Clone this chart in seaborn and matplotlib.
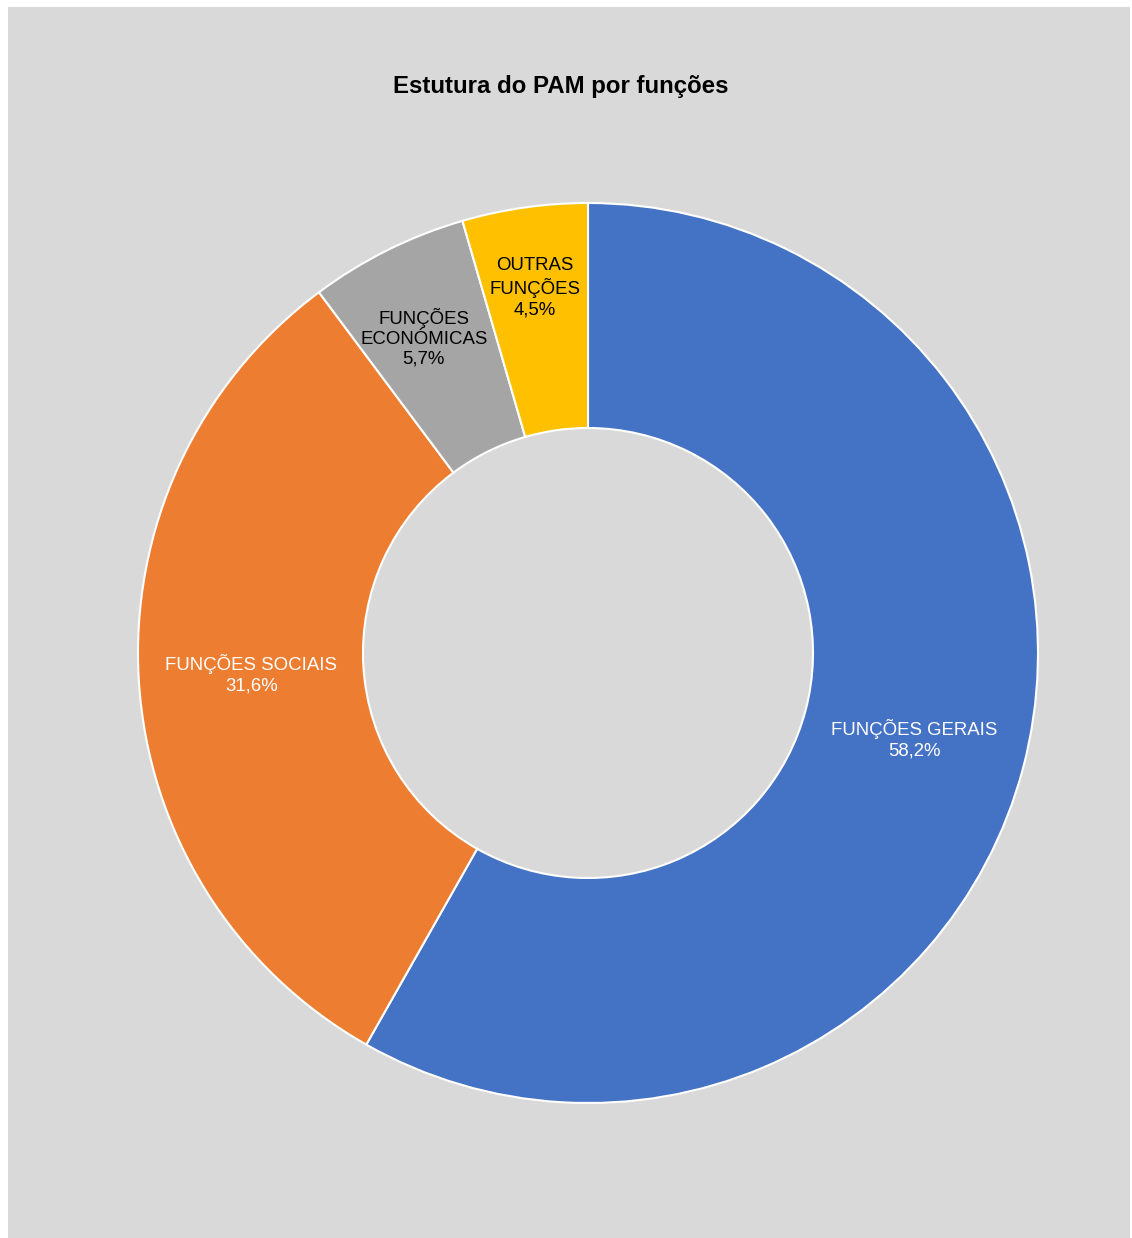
import matplotlib
matplotlib.use("Agg")
import numpy as np
import matplotlib.pyplot as plt
import seaborn as sns
from matplotlib.patches import Rectangle

categories = ["FUNÇÕES GERAIS", "FUNÇÕES SOCIAIS", "FUNÇÕES\nECONÓMICAS", "OUTRAS\nFUNÇÕES"]
shares = [58.2, 31.6, 5.7, 4.5]
share_labels = ["58,2%", "31,6%", "5,7%", "4,5%"]
colors = sns.color_palette(["#4472C4", "#ED7D31", "#A5A5A5", "#FFC000"])
text_colors = ["white", "white", "black", "black"]
# label placement: (radius, angle in degrees or None = wedge middle)
label_place = [(0.75, None), (0.75, None), (0.79, 117.5), (0.82, 98.3)]

sns.set_style("white")
plt.rcParams["font.family"] = ["Liberation Sans", "DejaVu Sans"]

W, H = 1132, 1238
fig = plt.figure(figsize=(W / 100, H / 100), dpi=100)
fig.patch.set_facecolor("white")
fig.patches.append(Rectangle((8 / W, 0), (W - 10) / W, (H - 7) / H,
                             transform=fig.transFigure, facecolor="#D9D9D9",
                             edgecolor="none", zorder=-10))

cx, cy, r = 588, 653, 450
ax = fig.add_axes([(cx - r) / W, (H - cy - r) / H, 2 * r / W, 2 * r / H])
ax.set_facecolor("none")
ax.set_zorder(5)

wedges, _ = ax.pie(shares, colors=colors, startangle=90, counterclock=False,
                   radius=1, wedgeprops=dict(width=0.5, edgecolor="white", linewidth=1.5))

for w, cat, lab, tc, (lr, la) in zip(wedges, categories, share_labels, text_colors, label_place):
    if la is None:
        la = (w.theta1 + w.theta2) / 2
    ang = np.deg2rad(la)
    x, y = lr * np.cos(ang), lr * np.sin(ang)
    ax.text(x, y, f"{cat}\n{lab}", ha="center", va="center", fontsize=13.4,
            color=tc, linespacing=1.24)

ax.set_xlim(-1, 1)
ax.set_ylim(-1, 1)
ax.set_aspect("equal")
ax.axis("off")

fig.text(561 / W, 1 - 86 / H, "Estutura do PAM por funções", ha="center", va="center",
         fontsize=17.25, fontweight="bold", color="black", zorder=6)

fig.savefig("out.png", dpi=100, facecolor=fig.get_facecolor())
